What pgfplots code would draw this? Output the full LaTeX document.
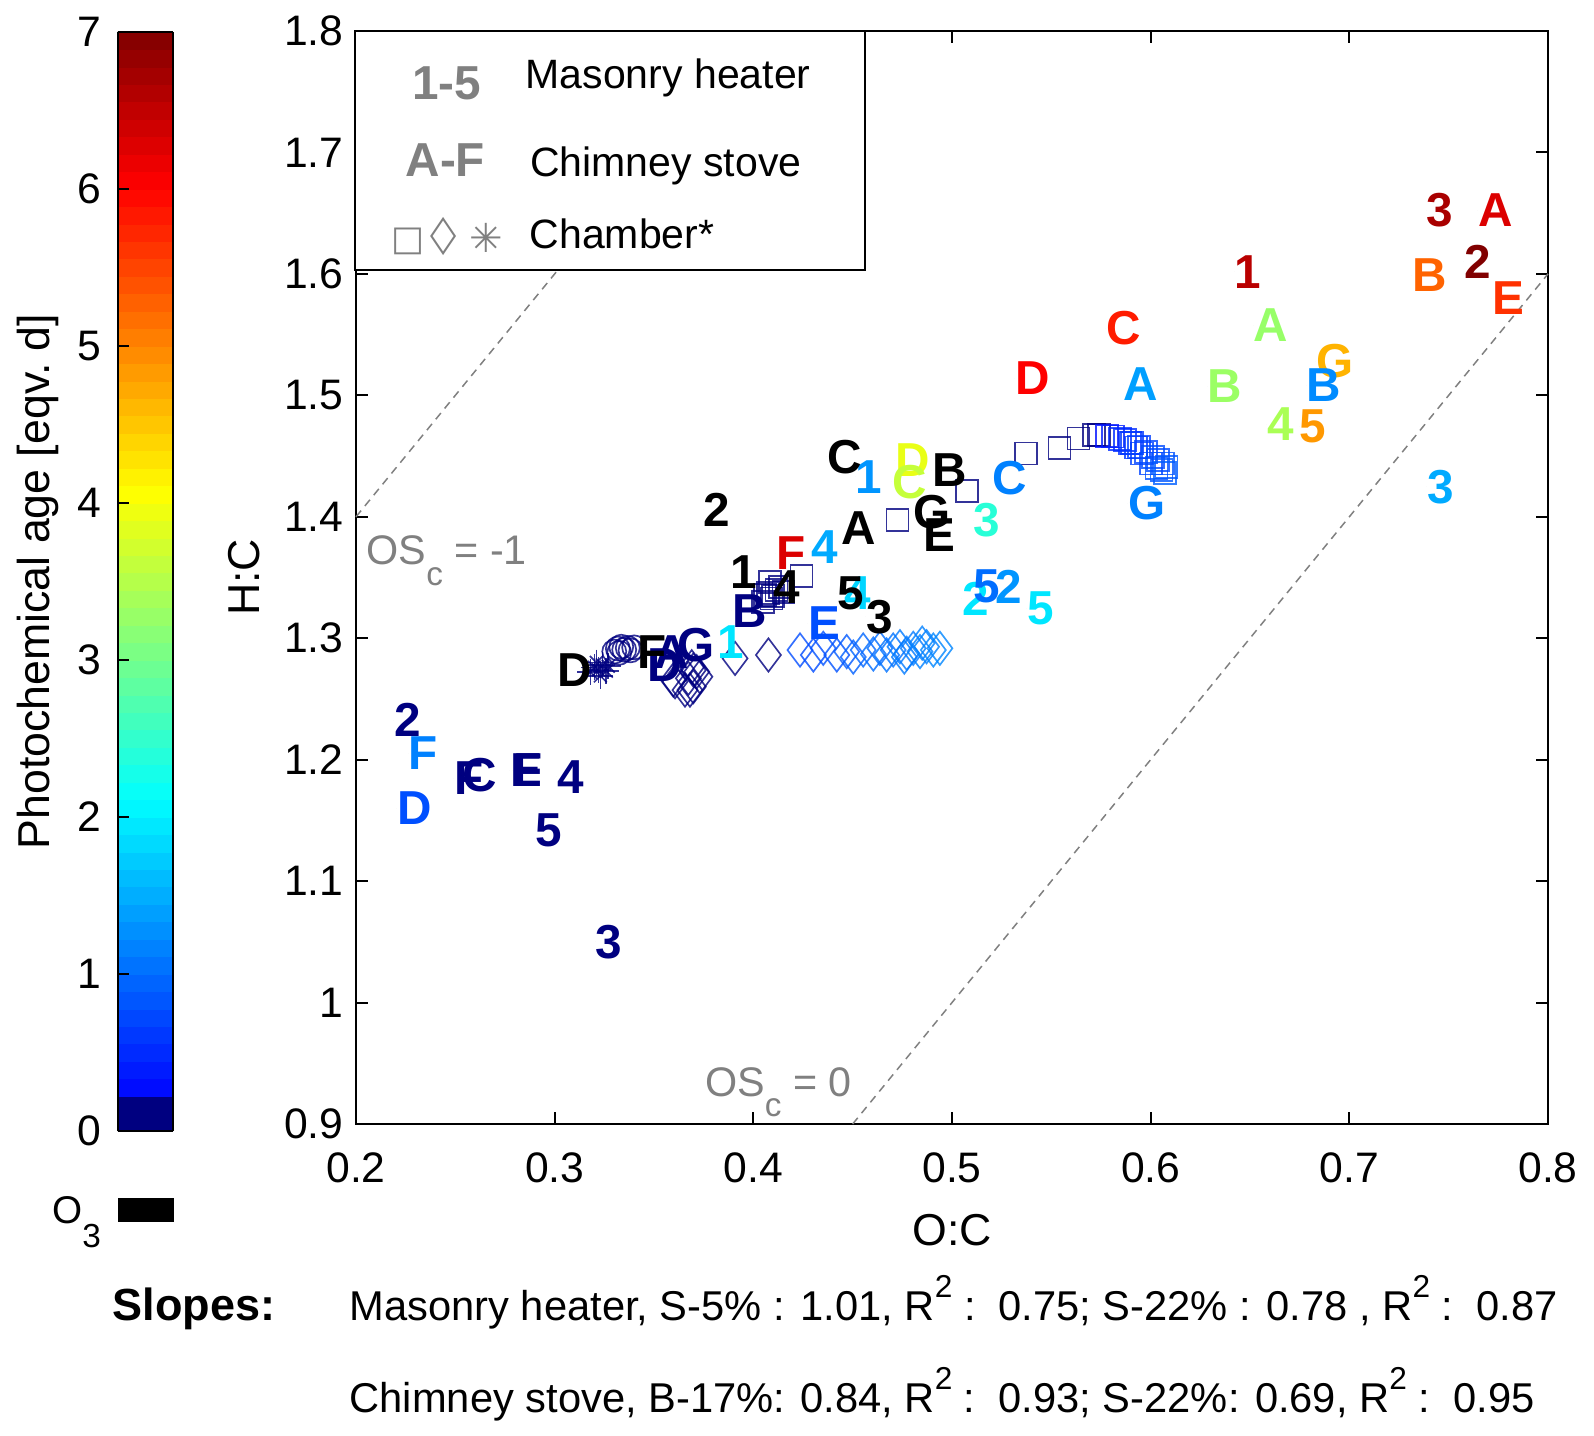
\documentclass[border=0pt]{standalone}
\usepackage{pgfplots}
\pgfplotsset{compat=1.18}
\usepackage{pgfplotstable}
\usepackage{fontspec}
\setmainfont{Liberation Sans}
\newfontfamily\dejavu{DejaVu Sans}
\usetikzlibrary{calc}
\pgfplotsset{/pgf/number format/assume math mode=true}
\pgfplotsset{colormap={agemap}{rgb255(0pt)=(0,0,128); rgb255(10pt)=(0,0,128); rgb255(11pt)=(0,0,255); rgb255(127pt)=(0,255,255); rgb255(244pt)=(255,255,0); rgb255(361pt)=(255,0,0); rgb255(420pt)=(128,0,0)}}

\newcommand{\fs}[1]{\fontsize{#1}{#1}\selectfont}
\newcommand{\labfont}{\fs{14.3}\bfseries}
\newcommand{\sups}[1]{\raisebox{0.55em}{\fs{9.5}#1}}
\newcommand{\subs}[1]{\raisebox{-0.5em}{\fs{10}#1}}
\definecolor{osgray}{RGB}{128,128,128}

% coloured sample labels: x (left edge), y (centre), label, photochemical age [eqv. d]
\pgfplotstableread{
x y lab age
0.7386 1.6526 3 6.68
0.7647 1.6526 A 6.29
0.6420 1.6018 1 6.56
0.7577 1.6100 2 6.99
0.7315 1.5990 B 5.26
0.7716 1.5799 E 5.64
0.5775 1.5552 C 5.80
0.5314 1.5140 D 6.02
0.6516 1.5579 A 3.27
0.6285 1.5075 B 3.30
0.5862 1.5090 A 1.39
0.6831 1.5280 G 4.65
0.6783 1.5085 B 1.24
0.6584 1.4760 4 3.42
0.6748 1.4745 5 4.85
0.7390 1.4248 3 1.47
0.5200 1.4317 C 1.16
0.5885 1.4110 G 1.16
0.4512 1.4330 1 1.31
0.4713 1.4467 D 3.90
0.4696 1.4289 C 3.62
0.5107 1.3973 3 2.42
0.4114 1.3699 F 6.29
0.4290 1.3754 4 1.47
0.3891 1.3225 B 0
0.4458 1.3370 4 1.80
0.4273 1.3125 E 0.78
0.5049 1.3328 2 1.93
0.5107 1.3424 5 1.01
0.5216 1.3424 2 1.31
0.5376 1.3245 5 1.93
0.3816 1.2970 1 1.93
0.3614 1.2944 G 0
0.3497 1.2889 A 0
0.3463 1.2780 D 0
0.2188 1.2326 2 0
0.2263 1.2052 F 1.16
0.2205 1.1600 D 0.78
0.2490 1.1846 F 0
0.2532 1.1873 C 0
0.2775 1.1915 E 0
0.2790 1.1915 F 0
0.3010 1.1860 4 0
0.2901 1.1420 5 0
0.3203 1.0500 3 0
}\labtab

% O3-only samples (black)
\pgfplotstableread{
x y lab
0.4369 1.4495 C
0.4898 1.4385 B
0.3748 1.4056 2
0.4441 1.3905 A
0.4805 1.4042 G
0.4852 1.3850 E
0.3883 1.3548 1
0.4100 1.3424 4
0.4420 1.3370 5
0.4567 1.3177 3
0.3010 1.2738 D
0.3413 1.2889 F
}\blacktab

\pgfplotstableread{
x y age
0.4050 1.3301 0
0.4059 1.3356 0
0.4075 1.3370 0
0.4084 1.3465 0
0.4092 1.3328 0
0.4117 1.3397 0
0.4134 1.3424 0
0.4151 1.3383 0
0.4100 1.3350 0
0.4243 1.3512 0
0.4725 1.3973 0
0.5077 1.4215 0
0.5371 1.4522 0
0.5541 1.4564 0
0.5637 1.4646 0
0.5715 1.4673 0
0.5741 1.4673 0
0.5780 1.4665 0.3
0.5810 1.4660 0.4
0.5845 1.4640 0.5
0.5871 1.4632 0.5
0.5895 1.4610 0.55
0.5906 1.4605 0.6
0.5925 1.4570 0.6
0.5941 1.4577 0.65
0.5955 1.4520 0.65
0.5976 1.4536 0.7
0.6000 1.4440 0.7
0.6011 1.4495 0.75
0.6030 1.4400 0.8
0.6037 1.4467 0.75
0.6055 1.4385 0.85
0.6062 1.4440 0.8
0.6080 1.4412 0.85
0.6072 1.4358 0.9
}\sqtab

\pgfplotstableread{
x y age
0.3597 1.2656 0
0.3606 1.2642 0
0.3656 1.2573 0
0.3673 1.2670 0
0.3681 1.2573 0
0.3690 1.2765 0
0.3698 1.2601 0
0.3698 1.2738 0
0.3715 1.2724 0
0.3731 1.2683 0
0.3908 1.2834 0
0.4076 1.2862 0
0.4235 1.2903 0.75
0.4302 1.2862 0.75
0.4352 1.2917 0.8
0.4420 1.2862 0.8
0.4470 1.2890 0.85
0.4503 1.2845 0.9
0.4553 1.2903 0.95
0.4604 1.2870 1.0
0.4637 1.2917 1.0
0.4671 1.2862 1.05
0.4704 1.2903 1.05
0.4738 1.2930 1.1
0.4772 1.2876 1.1
0.4805 1.2917 1.1
0.4839 1.2890 1.15
0.4872 1.2930 1.15
0.4906 1.2903 1.2
0.4939 1.2917 1.2
0.4760 1.2845 1.1
0.4850 1.2960 1.15
}\dmtab

\pgfplotstableread{
x y age
0.3300 1.2890 0
0.3318 1.2915 0
0.3335 1.2930 0
0.3350 1.2905 0
0.3368 1.2920 0
0.3382 1.2900 0
0.3400 1.2925 0
0.3325 1.2880 0
}\cirtab

\pgfplotstableread{
x y age
0.3180 1.2720 0
0.3200 1.2760 0
0.3220 1.2740 0
0.3240 1.2780 0
0.3260 1.2730 0
0.3230 1.2690 0
0.3210 1.2800 0
0.3270 1.2770 0
}\asttab

\begin{document}
\begin{tikzpicture}
\begin{axis}[
  at={(0,0)}, anchor=south west,
  scale only axis, width=357.6pt, height=327.9pt,
  xmin=0.2, xmax=0.8, ymin=0.9, ymax=1.8,
  xtick={0.2,0.3,0.4,0.5,0.6,0.7,0.8},
  ytick={0.9,1,1.1,1.2,1.3,1.4,1.5,1.6,1.7,1.8},
  tick align=inside, major tick length=3.7pt,
  axis line style={line width=0.6pt},
  every tick/.style={black, line width=0.6pt},
  tick label style={font=\fs{12.8}},
  xticklabel style={yshift=-5.2pt},
  yticklabel style={xshift=-0.2pt},
  xlabel={O:C}, ylabel={H:C},
  label style={font=\fs{13.4}},
  xlabel style={at={(axis description cs:0.5,-0.097)}, anchor=center},
  ylabel style={at={(axis description cs:-0.094,0.5)}, anchor=center},
  clip=false,
  point meta min=0, point meta max=7,
  colormap name=agemap,
  colorbar left,
  colorbar shift/.style={},
  colorbar sampled,
  colorbar style={
    at={($(parent axis.south west)+(-71.5pt,-2.1pt)$)}, anchor=south west,
    xshift=0pt,
    scale only axis, width=16.7pt, height=329.7pt,
    samples=64,
    ytick={0,1,2,3,4,5,6,7},
    yticklabel pos=left, ytick pos=left,
    tick align=inside, major tick length=3.5pt,
    axis line style={line width=0.6pt},
    every tick/.style={black, line width=0.6pt},
    yticklabel style={font=\fs{12.8}, xshift=-1.4pt},
    ylabel={Photochemical age [eqv.\ d]},
    ylabel style={at={(axis description cs:-1.43,0.5)}, anchor=center, font=\fs{13.4}},
  },
]
% OSc isolines
\addplot[osgray, line width=0.45pt, dash pattern=on 2.4pt off 1.8pt] coordinates {(0.2,1.4) (0.4,1.8)};
\addplot[osgray, line width=0.45pt, dash pattern=on 2.4pt off 1.8pt] coordinates {(0.45,0.9) (0.8,1.6)};

% chamber markers
\addplot[scatter, only marks, mark=square, mark size=3.3pt,
  scatter/use mapped color={draw=mapped color, fill=none},
  mark options={line width=0.5pt, draw opacity=0.8},
  point meta=\thisrow{age}] table[x=x,y=y] {\sqtab};
\addplot[scatter, only marks, mark=diamond, mark size=5pt,
  scatter/use mapped color={draw=mapped color, fill=none},
  mark options={line width=0.5pt, draw opacity=0.8},
  point meta=\thisrow{age}] table[x=x,y=y] {\dmtab};
\addplot[scatter, only marks, mark=o, mark size=3.6pt,
  scatter/use mapped color={draw=mapped color, fill=none},
  mark options={line width=0.5pt, draw opacity=0.8},
  point meta=\thisrow{age}] table[x=x,y=y] {\cirtab};
\addplot[scatter, only marks, mark=+, mark size=3.9pt,
  scatter/use mapped color={draw=mapped color, fill=none},
  mark options={line width=0.5pt, draw opacity=0.8},
  point meta=\thisrow{age}] table[x=x,y=y] {\asttab};
\addplot[scatter, only marks, mark=x, mark size=2.75pt,
  scatter/use mapped color={draw=mapped color, fill=none},
  mark options={line width=0.5pt, draw opacity=0.8},
  point meta=\thisrow{age}] table[x=x,y=y] {\asttab};

% sample labels coloured by age
\addplot[only marks, mark=*, mark size=0pt, mark options={draw=none, fill=none},
  point meta=explicit symbolic,
  visualization depends on={\thisrow{age}*1000/7 \as \myage},
  nodes near coords,
  every node near coord/.append style={anchor=west, inner sep=0pt, font=\labfont, /pgfplots/color of colormap={\myage of agemap}},
] table[x=x,y=y,meta=lab] {\labtab};

% O3 labels (black)
\addplot[only marks, mark=*, mark size=0pt, mark options={draw=none, fill=none},
  point meta=explicit symbolic,
  nodes near coords,
  every node near coord/.append style={anchor=west, inner sep=0pt, font=\labfont, text=black},
] table[x=x,y=y,meta=lab] {\blacktab};

\node[anchor=base west, inner sep=0pt, text=osgray, font=\fs{12.4}] at (axis cs:0.205,1.3605) {OS\subs{c} = -1};
\node[anchor=base west, inner sep=0pt, text=osgray, font=\fs{12.4}] at (axis cs:0.3754,0.923) {OS\subs{c} = 0};
\end{axis}

% legend box
\draw[line width=0.6pt, fill=white] (-0.3pt,327.9pt) rectangle (152.7pt,256.2pt);
\node[anchor=base west, inner sep=0pt, text=osgray, font=\labfont] at (16.7pt,307.2pt) {1-5};
\node[anchor=base west, inner sep=0pt, font=\fs{12.3}] at (50.7pt,310.7pt) {Masonry heater};
\node[anchor=base west, inner sep=0pt, text=osgray, font=\labfont] at (14.7pt,284.2pt) {A-F};
\node[anchor=base west, inner sep=0pt, font=\fs{12.3}] at (52.1pt,284.2pt) {Chimney stove};
\node[anchor=center, inner sep=0pt, text=osgray, font=\dejavu\fs{10.5}] at (15.6pt,264.7pt) {□};
\node[anchor=center, inner sep=0pt, text=osgray, font=\dejavu\fs{12}] at (26.4pt,266.2pt) {\scalebox{0.85}[1.25]{◇}};
\node[anchor=center, inner sep=0pt, text=osgray, font=\dejavu\fs{12}] at (39.0pt,265.8pt) {✳};
\node[anchor=base west, inner sep=0pt, font=\fs{12.3}] at (51.9pt,262.7pt) {Chamber*};

% O3 key below colorbar
\fill[black] (-71.5pt,-22.1pt) rectangle (-54.5pt,-29.5pt);
\node[anchor=base east, inner sep=0pt, font=\fs{11.6}] at (-76.3pt,-29.9pt) {O\raisebox{-0.62em}{\fs{10}3}};

% slopes
\node[anchor=base west, inner sep=0pt, font=\fs{13.5}\bfseries] at (-73.2pt,-58.9pt) {Slopes:};
\node[anchor=base west, inner sep=0pt, font=\fs{12.5}] at (-2.1pt,-58.9pt) {Masonry heater, S-5\% : 1.01, R\sups{2} :\ \ 0.75; S-22\% : 0.78 , R\sups{2} :\ \ 0.87};
\node[anchor=base west, inner sep=0pt, font=\fs{12.5}] at (-2.1pt,-86.4pt) {Chimney stove, B-17\%: 0.84, R\sups{2} :\ \ 0.93; S-22\%: 0.69, R\sups{2} :\ \ 0.95};

\pgfresetboundingbox
\path[use as bounding box] (-106.8pt,-93.3pt) rectangle (371.4pt,337.2pt);
\end{tikzpicture}
\end{document}
